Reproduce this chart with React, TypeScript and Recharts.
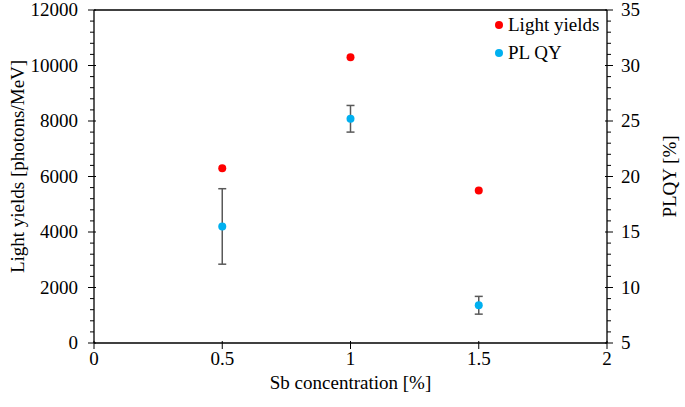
import React from "react";
import {
  ComposedChart,
  ErrorBar,
  ReferenceLine,
  Scatter,
  XAxis,
  YAxis,
} from "recharts";

const concentrations = [0.5, 1, 1.5];
const lightYields = [6300, 10300, 5500];
const plqy = [15.5, 25.2, 8.4];
const plqyErr = [3.4, 1.2, 0.8];

const xTicks = [0, 0.5, 1, 1.5, 2];
const leftTicks = Array.from({ length: 31 }, (_, i) => i * 400);
const rightTicks = Array.from({ length: 31 }, (_, i) => 5 + i);

const FONT = "'Liberation Serif', 'Times New Roman', serif";
const FS = 19;

const rows = concentrations.map((c, i) => ({
  x: c,
  ly: lightYields[i],
  qy: plqy[i],
  err: plqyErr[i],
}));

function LeftTick(props: any) {
  const { x, y, payload } = props;
  const v = payload.value;
  const major = v % 2000 === 0;
  return (
    <g>
      <line x1={major ? x - 6 : x - 4} x2={major ? x + 2 : x} y1={y} y2={y} stroke="#000" strokeWidth={1} />
      {major && (
        <text x={x - 16} y={y + 6} textAnchor="end" fontFamily={FONT} fontSize={FS} fill="#000">
          {v}
        </text>
      )}
    </g>
  );
}

function RightTick(props: any) {
  const { x, y, payload } = props;
  const v = payload.value;
  const major = v % 5 === 0;
  return (
    <g>
      <line x1={major ? x - 2 : x} x2={major ? x + 6 : x + 4} y1={y} y2={y} stroke="#000" strokeWidth={1} />
      {major && (
        <text x={x + 14} y={y + 6} textAnchor="start" fontFamily={FONT} fontSize={FS} fill="#000">
          {v}
        </text>
      )}
    </g>
  );
}

function BottomTick(props: any) {
  const { x, y, payload } = props;
  return (
    <g>
      <line x1={x} x2={x} y1={y - 2} y2={y + 6} stroke="#000" strokeWidth={1} />
      <text x={x} y={y + 22} textAnchor="middle" fontFamily={FONT} fontSize={FS} fill="#000">
        {payload.value}
      </text>
    </g>
  );
}

// axis titles drawn at fixed offsets from the plot box
function XTitle(props: any) {
  const { viewBox } = props;
  const cx = viewBox.x + viewBox.width / 2;
  return (
    <text x={cx} y={viewBox.y + 46} textAnchor="middle" fontFamily={FONT} fontSize={FS} fill="#000">
      Sb concentration [%]
    </text>
  );
}

function LeftTitle(props: any) {
  const { viewBox } = props;
  const cy = viewBox.y + viewBox.height / 2 - 10;
  const x = 24;
  return (
    <text
      x={x}
      y={cy}
      transform={`rotate(-90 ${x} ${cy})`}
      textAnchor="middle"
      fontFamily={FONT}
      fontSize={FS}
      fill="#000"
    >
      Light yields [photons/MeV]
    </text>
  );
}

function RightTitle(props: any) {
  const { viewBox } = props;
  const cy = viewBox.y + viewBox.height / 2;
  const x = 676;
  return (
    <text
      x={x}
      y={cy}
      transform={`rotate(-90 ${x} ${cy})`}
      textAnchor="middle"
      fontFamily={FONT}
      fontSize={FS}
      fill="#000"
    >
      PLQY [%]
    </text>
  );
}

const legendItems = [
  { name: "Light yields", color: "#ff0000" },
  { name: "PL QY", color: "#00b0f0" },
];

export default function App() {
  return (
    <div style={{ position: "absolute", left: 0, top: 0, width: 685, height: 407, background: "#fff" }}>
      <ComposedChart
        width={685}
        height={407}
        data={rows}
        margin={{ top: 10, right: 0, bottom: 14, left: 34 }}
      >
        <XAxis
          dataKey="x"
          type="number"
          domain={[0, 2]}
          ticks={xTicks}
          tickSize={0}
          tickMargin={0}
          tickLine={false}
          tick={<BottomTick />}
          axisLine={{ stroke: "#000", strokeWidth: 1.3 }}
          height={50}
          label={<XTitle />}
        />
        <YAxis
          yAxisId="left"
          type="number"
          domain={[0, 12000]}
          ticks={leftTicks}
          interval={0}
          tickSize={0}
          tickMargin={0}
          tickLine={false}
          tick={<LeftTick />}
          axisLine={{ stroke: "#000", strokeWidth: 1.3 }}
          width={60}
          label={<LeftTitle />}
        />
        <YAxis
          yAxisId="right"
          orientation="right"
          type="number"
          domain={[5, 35]}
          ticks={rightTicks}
          interval={0}
          tickSize={0}
          tickMargin={0}
          tickLine={false}
          tick={<RightTick />}
          axisLine={{ stroke: "#000", strokeWidth: 1.3 }}
          width={78}
          label={<RightTitle />}
        />
        <ReferenceLine yAxisId="left" y={12000} stroke="#000" strokeWidth={1.3} />
        <Scatter
          name="Light yields"
          yAxisId="left"
          dataKey="ly"
          fill="#ff0000"
          shape={(p: any) => <circle cx={p.cx} cy={p.cy} r={4} fill="#ff0000" />}
          isAnimationActive={false}
        />
        <Scatter
          name="PL QY"
          yAxisId="right"
          dataKey="qy"
          fill="#00b0f0"
          shape={(p: any) => <circle cx={p.cx} cy={p.cy} r={4} fill="#00b0f0" />}
          isAnimationActive={false}
        >
          <ErrorBar dataKey="err" direction="y" width={4} stroke="#595959" strokeWidth={1.5} />
        </Scatter>
      </ComposedChart>
      <div
        style={{
          position: "absolute",
          left: 495,
          top: 11,
          fontFamily: FONT,
          fontSize: FS,
          color: "#000",
          lineHeight: "28px",
        }}
      >
        {legendItems.map((it) => (
          <div key={it.name} style={{ display: "flex", alignItems: "center", height: 28 }}>
            <span
              style={{
                display: "inline-block",
                width: 8,
                height: 8,
                borderRadius: 4,
                background: it.color,
                marginRight: 5,
              }}
            />
            {it.name}
          </div>
        ))}
      </div>
    </div>
  );
}
